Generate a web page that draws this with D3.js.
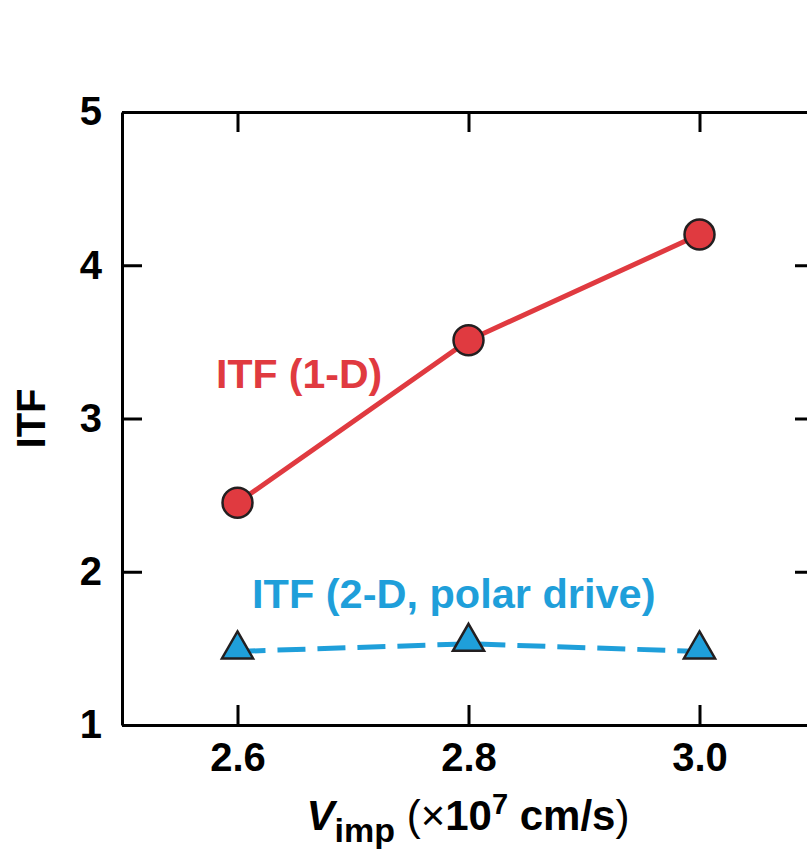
<!DOCTYPE html>
<html>
<head>
<meta charset="utf-8">
<script src="https://cdn.jsdelivr.net/npm/d3@7"></script>
<style>
  body { margin: 0; background: #fff; }
  svg text { font-family: "Liberation Sans", Arial, sans-serif; font-weight: bold; }
</style>
</head>
<body>
<div id="chart"></div>
<script>
// data
var velocity = [2.6, 2.8, 3.0];
var itf1D = [2.45, 3.51, 4.2];
var itf2D = [1.48, 1.53, 1.48];
var xTicks = [2.6, 2.8, 3.0];
var yTicks = [1, 2, 3, 4, 5];

var width = 807, height = 858;
var margin = {top: 112, right: -8, bottom: 133, left: 122};

var red = "#e03a40", blue = "#1f9fda", dark = "#231f20";

var svg = d3.select("#chart").append("svg")
  .attr("width", width)
  .attr("height", height);

var x = d3.scaleLinear().domain([2.5, 3.1]).range([margin.left, width - margin.right]);
var y = d3.scaleLinear().domain([1, 5]).range([height - margin.bottom, margin.top]);

// frame axes, ticks pointing inward
function styleAxis(g) {
  g.selectAll(".domain").attr("stroke", "#000").attr("stroke-width", 3);
  g.selectAll(".tick line").attr("stroke", "#000").attr("stroke-width", 3);
  g.selectAll(".tick text").attr("font-size", 40).attr("fill", "#000");
}

svg.append("g")
  .attr("transform", "translate(0," + y(1) + ")")
  .call(d3.axisBottom(x).tickValues(xTicks).tickSizeInner(-20).tickSizeOuter(0).tickPadding(18)
    .tickFormat(d3.format(".1f")))
  .call(styleAxis);

svg.append("g")
  .attr("transform", "translate(0," + y(5) + ")")
  .call(d3.axisTop(x).tickValues(xTicks).tickSizeInner(-20).tickSizeOuter(0).tickFormat(""))
  .call(styleAxis);

svg.append("g")
  .attr("transform", "translate(" + x(2.5) + ",0)")
  .call(d3.axisLeft(y).tickValues(yTicks).tickSizeInner(-20).tickSizeOuter(0).tickPadding(20)
    .tickFormat(d3.format("d")))
  .call(styleAxis);

svg.append("g")
  .attr("transform", "translate(" + x(3.1) + ",0)")
  .call(d3.axisRight(y).tickValues(yTicks).tickSizeInner(-20).tickSizeOuter(0).tickFormat(""))
  .call(styleAxis);

// series
var pts1 = velocity.map(function(v, i) { return [v, itf1D[i]]; });
var pts2 = velocity.map(function(v, i) { return [v, itf2D[i]]; });
var line = d3.line().x(function(d) { return x(d[0]); }).y(function(d) { return y(d[1]); });

svg.append("path").datum(pts2)
  .attr("d", line)
  .attr("fill", "none")
  .attr("stroke", blue)
  .attr("stroke-width", 5)
  .attr("stroke-dasharray", "28,12");

svg.append("path").datum(pts1)
  .attr("d", line)
  .attr("fill", "none")
  .attr("stroke", red)
  .attr("stroke-width", 5);

svg.selectAll(".dot").data(pts1).enter().append("circle")
  .attr("cx", function(d) { return x(d[0]); })
  .attr("cy", function(d) { return y(d[1]); })
  .attr("r", 15)
  .attr("fill", red)
  .attr("stroke", dark)
  .attr("stroke-width", 2.5);

var tri = d3.symbol().type(d3.symbolTriangle).size(420);
svg.selectAll(".tri").data(pts2).enter().append("path")
  .attr("d", tri)
  .attr("transform", function(d) { return "translate(" + x(d[0]) + "," + (y(d[1]) - 2) + ")"; })
  .attr("fill", blue)
  .attr("stroke", dark)
  .attr("stroke-width", 2.5);

// labels
svg.append("text")
  .attr("x", 216).attr("y", 388)
  .attr("font-size", 41)
  .attr("fill", red)
  .text("ITF (1-D)");

svg.append("text")
  .attr("x", 252).attr("y", 608)
  .attr("font-size", 41.5)
  .attr("fill", blue)
  .text("ITF (2-D, polar drive)");

svg.append("text")
  .attr("transform", "translate(45," + y(3) + ") rotate(-90)")
  .attr("text-anchor", "middle")
  .attr("font-size", 40)
  .text("ITF");

var xt = svg.append("text")
  .attr("x", 468).attr("y", 830)
  .attr("text-anchor", "middle")
  .attr("font-size", 42);
xt.append("tspan").attr("font-style", "italic").text("V");
xt.append("tspan").attr("font-size", 34).attr("dy", 12).text("imp");
xt.append("tspan").attr("dy", -12).attr("font-weight", "normal").text(" (");
xt.append("tspan").attr("font-weight", "normal").text("\u00d7");
xt.append("tspan").text("10");
xt.append("tspan").attr("font-size", 29).attr("dy", -16).text("7");
xt.append("tspan").attr("dy", 16).text(" cm/s");
xt.append("tspan").attr("font-weight", "normal").text(")");
</script>
</body>
</html>
